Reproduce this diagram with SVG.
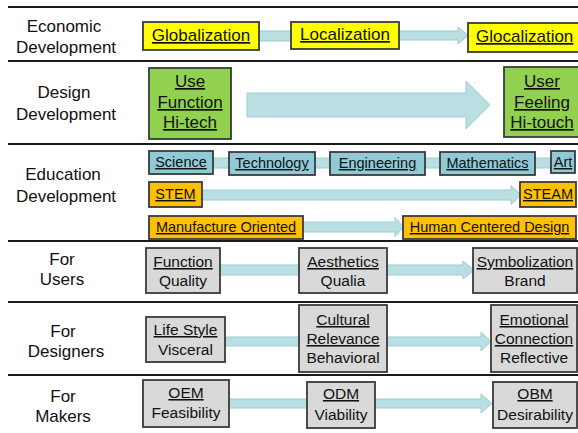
<svg xmlns="http://www.w3.org/2000/svg" width="578" height="433" viewBox="0 0 578 433">
<style>
text{font-family:"Liberation Sans",Arial,sans-serif;fill:#111}
.lbl{font-size:17px;text-anchor:middle}
.b17{font-size:17px;text-anchor:middle;text-decoration:underline}
.b14{font-size:14.5px;text-anchor:middle;text-decoration:underline}
.b15{font-size:15.5px;text-anchor:middle}
.u{text-decoration:underline}
.sep{stroke:#1a1a1a;stroke-width:2}
.box{stroke:#3a3a3a;stroke-width:1.8}
.yel{fill:#FFFF00}
.grn{fill:#92D050}
.org{fill:#FFC000}
.tea{fill:#8FCAD6}
.gry{fill:#D9D9D9}
.conn{fill:#B9DFE3;stroke:#9ECDD3;stroke-width:1}
</style>
<rect width="578" height="433" fill="#fff"/>
<g id="separators">
<line class="sep" x1="8" y1="7" x2="578" y2="7"/>
<line class="sep" x1="8" y1="61" x2="578" y2="61"/>
<line class="sep" x1="8" y1="144" x2="578" y2="144"/>
<line class="sep" x1="8" y1="241" x2="578" y2="241"/>
<line class="sep" x1="8" y1="302" x2="578" y2="302"/>
<line class="sep" x1="8" y1="375" x2="578" y2="375"/>
</g>
<g id="row-labels">
<text class="lbl" x="64" y="32">Economic</text>
<text class="lbl" x="66" y="53">Development</text>
<text class="lbl" x="64" y="98">Design</text>
<text class="lbl" x="66" y="120">Development</text>
<text class="lbl" x="63" y="180">Education</text>
<text class="lbl" x="66" y="202">Development</text>
<text class="lbl" x="62" y="265">For</text>
<text class="lbl" x="62" y="285">Users</text>
<text class="lbl" x="63" y="337">For</text>
<text class="lbl" x="66" y="357">Designers</text>
<text class="lbl" x="63" y="402">For</text>
<text class="lbl" x="63" y="422">Makers</text>
</g>
<g id="connectors">
<path class="conn" d="M259,31 H292 V41 H259 Z"/>
<path class="conn" d="M399,31 H458 V27 L468,35.5 L458,44 V40 H399 Z"/>
<path class="conn" d="M247,93 H466 V81 L490,105 L466,129 V117 H247 Z"/>
<path class="conn" d="M213,158 H230 V168 H213 Z"/>
<path class="conn" d="M315,158 H331 V168 H315 Z"/>
<path class="conn" d="M425,158 H441 V168 H425 Z"/>
<path class="conn" d="M535,158 H552 V168 H535 Z"/>
<path class="conn" d="M202,190 H511 V185.5 L521,195 L511,204.5 V200 H202 Z"/>
<path class="conn" d="M303,222 H395 V217.5 L404,227 L395,236.5 V232 H303 Z"/>
<path class="conn" d="M220,265 H300 V275 H220 Z"/>
<path class="conn" d="M387,265 H463 V261 L474,270 L463,279 V275 H387 Z"/>
<path class="conn" d="M225,337 H300 V346 H225 Z"/>
<path class="conn" d="M387,337 H481 V332 L491,341.5 L481,351 V346 H387 Z"/>
<path class="conn" d="M229,399 H308 V408 H229 Z"/>
<path class="conn" d="M375,399 H481 V394 L492,403.5 L481,413 V408 H375 Z"/>
</g>
<g id="globalization"><rect class="box yel" x="143" y="22" width="116" height="28"/><text class="b17" x="201" y="41">Globalization</text></g>
<g id="localization"><rect class="box yel" x="291" y="22" width="108" height="27"/><text class="b17" x="345" y="40">Localization</text></g>
<g id="glocalization"><rect class="box yel" x="468" y="23" width="116" height="29"/><text class="u" style="font-size:17px" x="476" y="42">Glocalization</text></g>
<g id="use-function"><rect class="box grn" x="149" y="68" width="82" height="71"/><text class="b17" x="190" y="87">Use</text><text class="b17" x="190" y="108">Function</text><text class="b17" x="190" y="128">Hi-tech</text></g>
<g id="user-feeling"><rect class="box grn" x="504" y="67" width="80" height="70"/><text class="b17" x="542" y="87">User</text><text class="b17" x="542" y="108">Feeling</text><text class="b17" x="542" y="128">Hi-touch</text></g>
<g id="science"><rect class="box tea" x="149" y="151" width="64" height="23"/><text class="b14" x="181" y="167">Science</text></g>
<g id="technology"><rect class="box tea" x="229" y="152" width="86" height="23"/><text class="b14" x="272" y="168">Technology</text></g>
<g id="engineering"><rect class="box tea" x="330" y="152" width="95" height="23"/><text class="b14" x="377.5" y="168">Engineering</text></g>
<g id="mathematics"><rect class="box tea" x="440" y="152" width="95" height="23"/><text class="b14" x="487.5" y="168">Mathematics</text></g>
<g id="art"><rect class="box tea" x="551" y="151" width="24" height="22"/><text class="b14" x="563" y="167">Art</text></g>
<g id="stem"><rect class="box org" x="149" y="182" width="53" height="25"/><text class="b14" x="175.5" y="199">STEM</text></g>
<g id="steam"><rect class="box org" x="520" y="182" width="56" height="25"/><text class="b14" x="548" y="199">STEAM</text></g>
<g id="manufacture-oriented"><rect class="box org" x="149" y="216" width="154" height="23"/><text class="b14" x="226" y="232">Manufacture Oriented</text></g>
<g id="human-centered-design"><rect class="box org" x="403" y="216" width="173" height="23"/><text class="b14" x="489.5" y="232">Human Centered Design</text></g>
<g id="function-quality"><rect class="box gry" x="146" y="248" width="74" height="45"/><text class="b15 u" x="183" y="267">Function</text><text class="b15" x="183" y="286">Quality</text></g>
<g id="aesthetics-qualia"><rect class="box gry" x="299" y="248" width="88" height="45"/><text class="b15 u" x="343" y="267">Aesthetics</text><text class="b15" x="343" y="286">Qualia</text></g>
<g id="symbolization-brand"><rect class="box gry" x="473" y="248" width="104" height="45"/><text class="b15 u" x="525" y="267">Symbolization</text><text class="b15" x="525" y="286">Brand</text></g>
<g id="lifestyle-visceral"><rect class="box gry" x="146" y="317" width="79" height="45"/><text class="b15 u" x="185.5" y="335">Life Style</text><text class="b15" x="185.5" y="355">Visceral</text></g>
<g id="cultural-relevance"><rect class="box gry" x="299" y="305" width="88" height="67"/><text class="b15 u" x="343" y="325">Cultural</text><text class="b15 u" x="343" y="344">Relevance</text><text class="b15" x="343" y="363">Behavioral</text></g>
<g id="emotional-connection"><rect class="box gry" x="491" y="305" width="86" height="67"/><text class="b15 u" x="534" y="325">Emotional</text><text class="b15 u" x="534" y="344">Connection</text><text class="b15" x="534" y="363">Reflective</text></g>
<g id="oem-feasibility"><rect class="box gry" x="143" y="380" width="86" height="47"/><text class="b15 u" x="186" y="398">OEM</text><text class="b15" x="186" y="418">Feasibility</text></g>
<g id="odm-viability"><rect class="box gry" x="307" y="382" width="68" height="46"/><text class="b15 u" x="341" y="399">ODM</text><text class="b15" x="341" y="420">Viability</text></g>
<g id="obm-desirability"><rect class="box gry" x="493" y="382" width="84" height="46"/><text class="b15 u" x="535" y="399">OBM</text><text class="b15" x="535" y="420">Desirability</text></g>
</svg>
